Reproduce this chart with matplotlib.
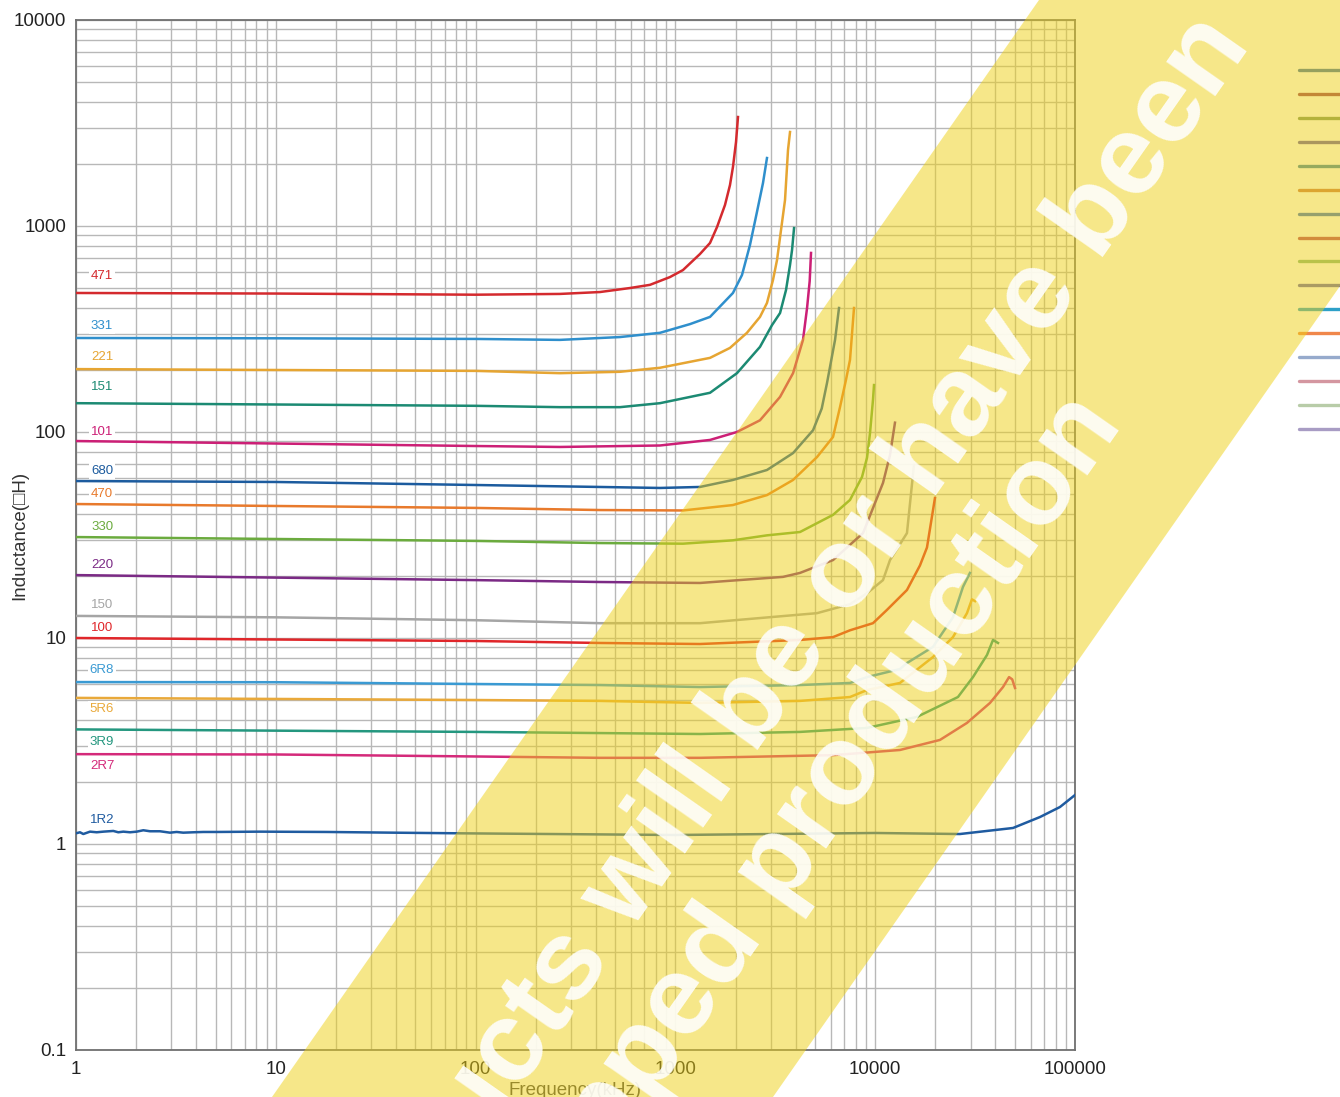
import numpy as np
import matplotlib
matplotlib.use('Agg')
import matplotlib.pyplot as plt
from matplotlib.patches import Polygon
from matplotlib.lines import Line2D
from matplotlib.ticker import LogLocator, NullFormatter

plt.rcParams['font.family'] = ['Liberation Sans', 'DejaVu Sans']

# ---- inductance vs frequency, one series per part (kHz, uH) ----
f_471 = [1, 10, 100, 264, 419, 593, 746, 939, 1091, 1327, 1490, 1616, 1771, 1876, 1941, 2011, 2057]
L_471 = [473, 470, 464, 468, 478, 500, 518, 565, 611, 731, 827, 989, 1265, 1581, 1932, 2557, 3381]

f_331 = [1, 10, 100, 264, 528, 837, 1183, 1490, 1941, 2154, 2362, 2560, 2744, 2873]
L_331 = [286, 285, 283, 280, 289, 303, 334, 362, 473, 578, 809, 1170, 1617, 2138]

f_221 = [1, 100, 264, 528, 837, 1490, 1876, 2281, 2651, 2873, 3079, 3226, 3378, 3537, 3661, 3747]
L_221 = [202, 198, 193, 196, 205, 229, 256, 303, 362, 423, 547, 684, 957, 1337, 2339, 2860]

f_151 = [1, 100, 264, 528, 837, 1490, 2033, 2651, 3043, 3340, 3578, 3747, 3835, 3925]
L_151 = [138, 134, 132, 132, 138, 155, 193, 259, 330, 378, 489, 647, 764, 977]

f_101 = [1, 100, 264, 837, 1490, 2033, 2651, 3340, 3880, 4352, 4560, 4700, 4773]
L_101 = [90.4, 85.5, 84.6, 86, 91.5, 100, 114, 148, 193, 280, 400, 540, 740]

f_680 = [1, 10, 100, 419, 837, 1327, 1941, 2873, 3880, 4886, 5400, 5739, 6295, 6590]
L_680 = [57.8, 57.2, 55.3, 54.1, 53.5, 54.1, 58.5, 65.4, 79, 102, 130, 173, 280, 400]

f_470 = [1, 100, 419, 1091, 1941, 2873, 3880, 5115, 6150, 6665, 7140, 7480, 7833]
L_470 = [44.7, 42.8, 41.8, 41.6, 44.2, 49.4, 58.5, 75.6, 94.6, 132, 179, 224, 400]

f_330 = [1, 100, 419, 1091, 1941, 2873, 4204, 6150, 7480, 8590, 9100, 9420, 9747, 9862]
L_330 = [30.9, 29.6, 28.9, 28.7, 29.8, 31.5, 32.7, 39.6, 46.8, 60.5, 75, 98.9, 143, 169]

f_220 = [1, 100, 419, 1327, 3455, 4204, 6150, 8690, 10940, 11860, 12560]
L_220 = [20.2, 19.1, 18.7, 18.5, 19.8, 20.7, 23.9, 32.3, 56.6, 77.3, 111]

f_150 = [1, 10, 100, 419, 1327, 5115, 7480, 9100, 10940, 11860, 14420, 15630]
L_150 = [12.8, 12.6, 12.2, 11.8, 11.8, 13.2, 14.6, 16.5, 19.1, 23.9, 32.3, 69.2]

f_100 = [1, 100, 419, 1327, 4204, 6150, 7480, 9747, 11460, 14420, 16750, 18160, 19910]
L_100 = [10, 9.67, 9.46, 9.35, 9.78, 10.1, 10.9, 11.8, 13.7, 17.1, 22.5, 27.5, 47.8]

f_6R8 = [1, 10, 100, 419, 1327, 4204, 7480, 9100, 13300, 14420, 19450, 24500, 27500, 29800]
L_6R8 = [6.11, 6.1, 5.98, 5.91, 5.78, 5.91, 6.05, 6.46, 7.07, 7.56, 9.05, 12.6, 17.7, 20.7]

f_5R6 = [1, 100, 419, 1327, 4204, 7480, 9100, 13300, 19450, 24500, 28790, 30490, 31600]
L_5R6 = [5.12, 5.0, 4.95, 4.84, 4.95, 5.17, 5.59, 6.05, 8.08, 10.1, 13.2, 15.4, 15.1]

f_3R9 = [1, 100, 1327, 4204, 9100, 16180, 25950, 30860, 36270, 38870, 41180]
L_3R9 = [3.6, 3.5, 3.42, 3.5, 3.66, 4.14, 5.17, 6.46, 8.27, 9.78, 9.46]

f_2R7 = [1, 10, 100, 419, 1327, 6150, 13300, 21090, 28790, 37550, 43620, 46770, 48500, 50080]
L_2R7 = [2.73, 2.72, 2.66, 2.62, 2.62, 2.70, 2.86, 3.20, 3.87, 4.84, 5.78, 6.46, 6.3, 5.72]

f_1R2 = [1, 1.047, 1.088, 1.175, 1.269, 1.370, 1.537, 1.628, 1.725, 1.864, 2.013, 2.172,
         2.346, 2.633, 2.954, 3.19, 3.44, 3.87, 4.34, 5.06, 8.33, 17.98, 38.7, 83.5,
         1000, 9980, 26560, 48940, 66800, 84100, 100000]
L_1R2 = [1.127, 1.140, 1.118, 1.148, 1.140, 1.148, 1.157, 1.140, 1.148, 1.140, 1.148, 1.166,
         1.153, 1.153, 1.135, 1.144, 1.135, 1.140, 1.144, 1.144, 1.148, 1.144, 1.135, 1.127,
         1.106, 1.131, 1.118, 1.196, 1.352, 1.512, 1.729]

part_names = ['471', '331', '221', '151', '101', '680', '470', '330',
              '220', '150', '100', '6R8', '5R6', '3R9', '2R7', '1R2']
part_colors = ['#d42a2e', '#2f8fcc', '#e6a532', '#1c8a73', '#cc1f76', '#1c5b9e',
               '#e87a2c', '#6bab3e', '#7b2a85', '#a5a5a5', '#e0262a', '#3a9ad3',
               '#e9a93a', '#24977f', '#d42a7a', '#1f5ba0']
label_L = [572, 327, 231, 165, 100, 64.7, 50.0, 34.6, 22.6, 14.5, 11.2, 7.0, 4.52, 3.13, 2.39, 1.31]
label_f = 1.35

freqs = [f_471, f_331, f_221, f_151, f_101, f_680, f_470, f_330,
         f_220, f_150, f_100, f_6R8, f_5R6, f_3R9, f_2R7, f_1R2]
inds = [L_471, L_331, L_221, L_151, L_101, L_680, L_470, L_330,
        L_220, L_150, L_100, L_6R8, L_5R6, L_3R9, L_2R7, L_1R2]

legend_colors = ['#3d6fa9', '#973d59', '#799363', '#655ba9', '#3d83a9', '#c9794f',
                 '#3d6fc7', '#b54763', '#83b581', '#6565b3', '#2da0c8', '#f0874b',
                 '#96aacc', '#d496a0', '#b8cca8', '#a89cc4']

x_ticks = [1, 10, 100, 1000, 10000, 100000]
x_ticklabels = ['1', '10', '100', '1000', '10000', '100000']
y_ticks = [0.1, 1, 10, 100, 1000, 10000]
y_ticklabels = ['0.1', '1', '10', '100', '1000', '10000']

W, H = 1340, 1097
fig = plt.figure(figsize=(W / 100, H / 100), dpi=100)
ax = fig.add_axes([76 / W, 47 / H, 999 / W, 1030 / H])
ax.set_xscale('log')
ax.set_yscale('log')
ax.set_xlim(1, 1e5)
ax.set_ylim(0.1, 1e4)

ax.xaxis.set_minor_locator(LogLocator(base=10, subs=np.arange(2, 10), numticks=100))
ax.yaxis.set_minor_locator(LogLocator(base=10, subs=np.arange(2, 10), numticks=100))
ax.xaxis.set_minor_formatter(NullFormatter())
ax.yaxis.set_minor_formatter(NullFormatter())
ax.set_xticks(x_ticks)
ax.set_xticklabels(x_ticklabels)
ax.set_yticks(y_ticks)
ax.set_yticklabels(y_ticklabels)
ax.grid(True, which='both', color='#b8b8b8', lw=1.0)
ax.set_axisbelow(True)
ax.tick_params(which='both', length=0, labelsize=13.5, labelcolor='#222222')
ax.tick_params(axis='x', pad=8)
ax.tick_params(axis='y', pad=7)
for s in ax.spines.values():
    s.set_color('#707070')
    s.set_linewidth(1.3)

for f, L, c in zip(freqs, inds, part_colors):
    ax.plot(f, L, color=c, lw=1.8, solid_joinstyle='round', zorder=3)

for name, yv, c in zip(part_names, label_L, part_colors):
    ax.text(label_f, yv, name, color=c, fontsize=9.5, ha='center', va='center',
            bbox=dict(facecolor='white', edgecolor='none', pad=1.2), zorder=4)

ax.set_xlabel('Frequency(kHz)', fontsize=13.5, color='#444444', labelpad=3)
ax.set_ylabel('Inductance(\u25a1H)', fontsize=13.5, color='#333333')
ax.yaxis.set_label_coords(-0.048, 0.5)

# series keys at the right edge
for i, c in enumerate(legend_colors):
    y = 70 + i * 23.93
    fig.add_artist(Line2D([1299 / W, 1350 / W], [1 - y / H, 1 - y / H],
                          transform=fig.transFigure, color=c, lw=2.4,
                          solid_capstyle='round', zorder=1))


def px(x, y):
    return (x / W, 1 - y / H)


# discontinued-product banner
band = Polygon([px(272, 1097), px(1039, 0), px(1540, 0), px(773, 1097)], closed=True,
               transform=fig.transFigure, facecolor=(0.937, 0.82, 0.082), alpha=0.5,
               edgecolor='none', zorder=5)
fig.add_artist(band)

fig.text(*px(1228, 28), 'Products will be or have been', rotation=55, rotation_mode='anchor',
         ha='right', va='center', fontsize=82, fontweight='bold', color='white',
         alpha=0.88, zorder=6)
fig.text(*px(1100, 408), 'stopped production', rotation=55, rotation_mode='anchor',
         ha='right', va='center', fontsize=82, fontweight='bold', color='white',
         alpha=0.88, zorder=6)

fig.savefig('out.png', dpi=100)
